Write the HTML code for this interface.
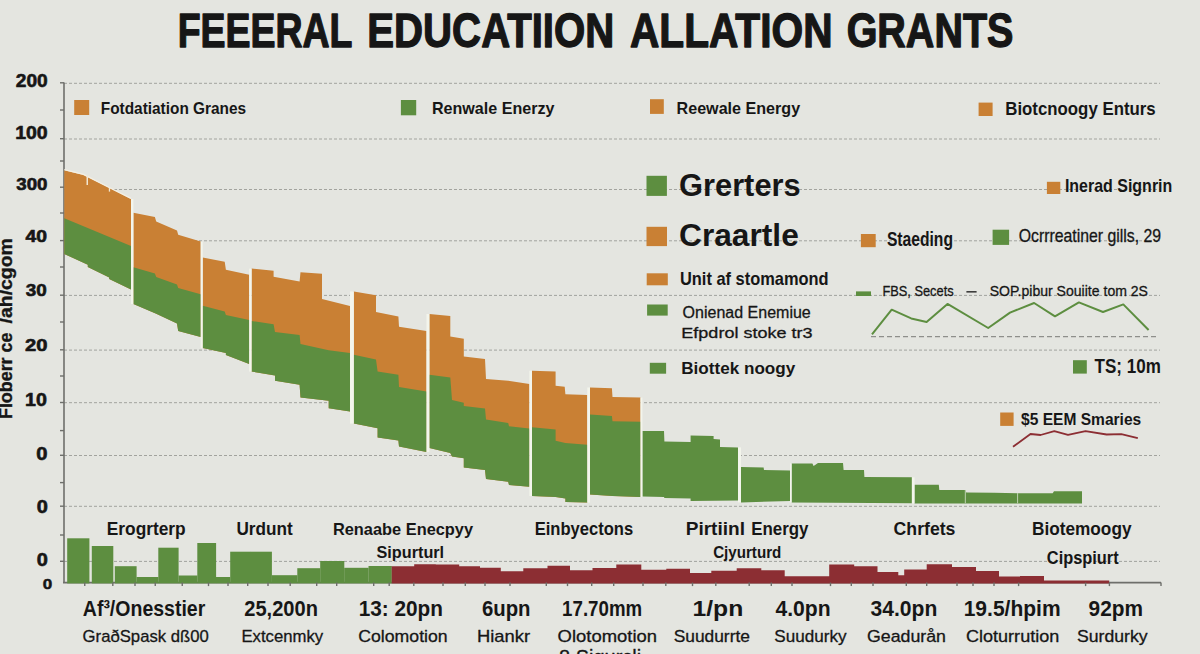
<!DOCTYPE html>
<html><head><meta charset="utf-8"><style>
html,body{margin:0;padding:0;background:#e4e5e0;}
body{width:1200px;height:654px;overflow:hidden;}
svg{display:block;font-family:"Liberation Sans",sans-serif;}
</style></head><body>
<svg width="1200" height="654" viewBox="0 0 1200 654">
<rect width="1200" height="654" fill="#e4e5e0"/>
<line x1="64" y1="83.3" x2="1160" y2="83.3" stroke="#a2a39e" stroke-width="1" stroke-dasharray="3 2"/>
<line x1="64" y1="139" x2="1160" y2="139" stroke="#a2a39e" stroke-width="1" stroke-dasharray="3 2"/>
<line x1="64" y1="189.5" x2="1160" y2="189.5" stroke="#a2a39e" stroke-width="1" stroke-dasharray="3 2"/>
<line x1="64" y1="240.8" x2="1160" y2="240.8" stroke="#a2a39e" stroke-width="1" stroke-dasharray="3 2"/>
<line x1="64" y1="295.4" x2="1160" y2="295.4" stroke="#a2a39e" stroke-width="1" stroke-dasharray="3 2"/>
<line x1="64" y1="350.1" x2="1160" y2="350.1" stroke="#a2a39e" stroke-width="1" stroke-dasharray="3 2"/>
<line x1="64" y1="402.7" x2="1160" y2="402.7" stroke="#a2a39e" stroke-width="1" stroke-dasharray="3 2"/>
<line x1="64" y1="455.5" x2="1160" y2="455.5" stroke="#a2a39e" stroke-width="1" stroke-dasharray="3 2"/>
<line x1="64" y1="506.3" x2="1160" y2="506.3" stroke="#a2a39e" stroke-width="1" stroke-dasharray="3 2"/>
<line x1="64" y1="561.4" x2="1160" y2="561.4" stroke="#a2a39e" stroke-width="1" stroke-dasharray="3 2"/>
<line x1="64" y1="82.5" x2="64" y2="582.6" stroke="#6e6f6b" stroke-width="1.6"/>
<polygon fill="#c98034" points="64.3,170.3 83.5,175.0 131.0,199.0 131.0,289.4 109.2,279.0 109.2,277.6 87.8,267.0 87.8,264.8 64.3,254.1"/>
<polygon fill="#5d8e40" points="64.3,218.2 131.0,246.0 131.0,289.4 109.2,279.0 109.2,277.6 87.8,267.0 87.8,264.8 64.3,254.1"/>
<polygon fill="#c98034" points="133.4,212.7 154.9,217.1 156.2,221.5 177.0,230.6 178.2,234.8 200.7,241.6 200.7,337.1 178.2,331.0 177.0,323.6 156.2,313.8 133.4,304.0"/>
<polygon fill="#5d8e40" points="133.4,267.3 154.9,273.4 156.2,277.1 177.0,284.5 178.2,288.1 200.7,294.2 200.7,337.1 178.2,331.0 177.0,323.6 156.2,313.8 133.4,304.0"/>
<polygon fill="#c98034" points="202.7,257.5 224.7,261.7 225.9,269.8 249.2,274.7 249.2,364.0 225.9,355.0 225.9,353.0 202.7,348.1"/>
<polygon fill="#5d8e40" points="202.7,305.8 224.7,311.4 225.9,315.0 249.2,320.0 249.2,364.0 225.9,355.0 225.9,353.0 202.7,348.1"/>
<polygon fill="#c98034" points="251.6,268.6 273.6,270.7 273.6,276.8 299.6,281.4 300.5,272.2 322.0,273.8 322.0,299.0 350.0,306.0 350.0,411.4 328.7,408.3 328.7,400.7 300.5,397.6 299.6,384.8 275.0,380.8 275.0,375.6 251.6,371.6"/>
<polygon fill="#5d8e40" points="251.6,321.0 273.6,324.2 275.0,332.0 299.6,335.0 300.5,344.0 328.7,350.2 350.0,353.0 350.0,411.4 328.7,408.3 328.7,400.7 300.5,397.6 299.6,384.8 275.0,380.8 275.0,375.6 251.6,371.6"/>
<polygon fill="#c98034" points="353.8,291.5 376.0,295.2 376.0,312.0 398.4,316.6 399.0,326.7 426.5,331.0 426.5,452.0 399.0,446.5 398.4,440.4 377.6,437.4 377.6,428.2 353.8,423.6"/>
<polygon fill="#5d8e40" points="353.8,354.8 376.0,359.4 377.6,371.6 398.4,374.7 399.0,387.0 426.5,391.5 426.5,452.0 399.0,446.5 398.4,440.4 377.6,437.4 377.6,428.2 353.8,423.6"/>
<polygon fill="#c98034" points="429.4,314.0 450.3,316.0 450.3,336.4 463.8,338.7 463.8,356.5 485.0,359.0 486.0,379.0 508.2,380.8 529.4,384.0 529.4,486.8 509.0,485.0 508.2,481.8 486.0,479.0 485.0,470.0 463.8,467.6 463.8,458.2 452.0,456.5 450.3,453.0 429.4,448.0"/>
<polygon fill="#5d8e40" points="429.4,374.7 450.3,377.4 452.0,400.0 463.8,402.7 463.8,406.0 485.0,408.4 486.0,419.5 508.2,422.9 509.0,426.2 529.4,428.6 529.4,486.8 509.0,485.0 508.2,481.8 486.0,479.0 485.0,470.0 463.8,467.6 463.8,458.2 452.0,456.5 450.3,453.0 429.4,448.0"/>
<polygon fill="#c98034" points="532.0,370.7 555.6,371.4 555.6,385.8 564.7,386.8 565.4,394.2 587.3,395.0 587.3,502.6 565.4,502.0 565.4,498.6 555.6,497.0 532.0,496.0"/>
<polygon fill="#5d8e40" points="532.0,427.2 555.6,429.6 555.6,440.7 565.4,443.0 587.3,444.7 587.3,502.6 565.4,502.0 565.4,498.6 555.6,497.0 532.0,496.0"/>
<polygon fill="#c98034" points="590.0,387.5 611.9,388.2 612.5,397.0 640.5,397.6 640.5,497.0 612.5,496.0 590.0,494.5"/>
<polygon fill="#5d8e40" points="590.0,414.4 611.9,416.0 612.5,421.2 640.5,421.8 640.5,497.0 612.5,496.0 590.0,494.5"/>
<polygon fill="#5d8e40" points="642.4,431.0 664.0,431.0 664.4,441.6 690.6,442.0 690.6,435.6 713.6,436.0 713.6,439.0 720.0,439.4 720.0,447.0 738.0,447.4 738.0,500.6 690.6,501.0 690.6,498.4 664.4,498.0 664.0,497.0 642.4,496.4"/>
<polygon fill="#5d8e40" points="741.0,467.0 763.6,467.4 764.0,470.0 790.0,470.4 790.0,501.0 741.0,502.4"/>
<polygon fill="#5d8e40" points="791.6,463.4 812.4,463.6 813.6,466.0 818.0,463.0 843.0,463.0 843.6,470.0 864.0,470.0 864.4,477.0 911.9,477.3 911.9,503.3 791.6,502.5"/>
<polygon fill="#5d8e40" points="914.5,484.8 938.8,484.8 939.3,490.1 965.2,490.1 966.3,492.5 994.0,492.8 1017.5,493.3 1052.7,493.3 1054.0,491.2 1082.0,491.2 1082.0,503.4 914.5,503.4"/>
<polyline fill="none" stroke="#f4efe2" stroke-width="1.3" points="64.3,169.6 83.5,174.3 109.3,187.5 131,198.3"/>
<rect x="86.5" y="175.0" width="1.5" height="10.0" fill="#f1e6d2"/>
<rect x="108.8" y="188.0" width="1.3" height="3.6" fill="#f1e6d2"/>
<rect x="131.0" y="199.0" width="2.4" height="105.0" fill="#f3f5ec"/>
<rect x="200.7" y="241.6" width="2.0" height="106.5" fill="#f3f5ec"/>
<rect x="249.2" y="268.6" width="2.4" height="103.0" fill="#f3f5ec"/>
<rect x="350.0" y="291.5" width="3.8" height="132.1" fill="#f3f5ec"/>
<rect x="426.5" y="314.0" width="2.9" height="138.0" fill="#f3f5ec"/>
<rect x="529.4" y="370.7" width="2.6" height="125.3" fill="#f3f5ec"/>
<rect x="587.3" y="387.5" width="2.7" height="115.1" fill="#f3f5ec"/>
<rect x="640.5" y="397.6" width="1.9" height="99.4" fill="#f3f5ec"/>
<rect x="738.0" y="447.4" width="3.0" height="55.0" fill="#f3f5ec"/>
<rect x="790.0" y="463.4" width="1.6" height="39.1" fill="#f3f5ec"/>
<rect x="911.9" y="477.3" width="2.6" height="26.1" fill="#f3f5ec"/>
<rect x="964.8" y="490.0" width="1.1" height="13.4" fill="#b5cca6"/>
<rect x="1017.0" y="493.0" width="1.1" height="10.4" fill="#b5cca6"/>
<line x1="63" y1="582.6" x2="1161" y2="582.6" stroke="#6e6f6b" stroke-width="1.6"/>
<rect x="67.2" y="538.3" width="22.2" height="45.1" fill="#5d8e40"/>
<rect x="91.8" y="546.0" width="21.5" height="37.4" fill="#5d8e40"/>
<rect x="114.8" y="566.2" width="21.8" height="17.2" fill="#5d8e40"/>
<rect x="136.5" y="577.0" width="21.9" height="6.4" fill="#5d8e40"/>
<rect x="158.3" y="547.7" width="20.3" height="35.7" fill="#5d8e40"/>
<rect x="178.5" y="575.5" width="18.9" height="7.9" fill="#5d8e40"/>
<rect x="197.3" y="543.0" width="18.8" height="40.4" fill="#5d8e40"/>
<rect x="216.0" y="577.0" width="14.3" height="6.4" fill="#5d8e40"/>
<rect x="230.2" y="551.7" width="19.9" height="31.7" fill="#5d8e40"/>
<rect x="250.0" y="551.7" width="21.9" height="31.7" fill="#5d8e40"/>
<rect x="271.8" y="575.2" width="25.6" height="8.2" fill="#5d8e40"/>
<rect x="297.3" y="568.2" width="23.0" height="15.2" fill="#5d8e40"/>
<rect x="320.2" y="561.0" width="24.1" height="22.4" fill="#5d8e40"/>
<rect x="344.2" y="567.8" width="24.4" height="15.6" fill="#5d8e40"/>
<rect x="368.5" y="566.0" width="23.3" height="17.4" fill="#5d8e40"/>
<polygon fill="#8c2e33" points="391.7,583.4 391.7,566.2 414.2,566.2 414.2,564.2 435.8,564.2 435.8,564.5 459.2,564.5 459.2,566.3 480.0,566.3 480.0,567.8 500.8,567.8 500.8,571.2 523.3,571.2 523.3,568.3 547.5,568.3 547.5,565.8 570.0,565.8 570.0,570.3 592.5,570.3 592.5,568.0 616.3,568.0 616.3,564.5 641.3,564.5 641.3,569.7 666.3,569.7 666.3,568.7 690.0,568.7 690.0,573.0 711.3,573.0 711.3,570.8 736.7,570.8 736.7,568.3 761.3,568.3 761.3,570.3 784.7,570.3 784.7,576.3 829.2,576.3 829.2,564.5 854.2,564.5 854.2,566.3 877.5,566.3 877.5,572.0 898.3,572.0 898.3,575.3 904.2,575.3 904.2,569.5 926.7,569.5 926.7,564.3 952.0,564.3 952.0,567.0 976.0,567.0 976.0,571.0 999.0,571.0 999.0,576.6 1020.0,576.6 1020.0,576.0 1044.0,576.0 1044.0,580.6 1109.2,580.6 1109.2,583.4"/>
<line x1="60" y1="82.8" x2="64" y2="82.8" stroke="#6e6f6b" stroke-width="1.4"/>
<line x1="60" y1="110" x2="64" y2="110" stroke="#6e6f6b" stroke-width="1.4"/>
<line x1="60" y1="138.7" x2="64" y2="138.7" stroke="#6e6f6b" stroke-width="1.4"/>
<line x1="60" y1="161" x2="64" y2="161" stroke="#6e6f6b" stroke-width="1.4"/>
<line x1="60" y1="187.2" x2="64" y2="187.2" stroke="#6e6f6b" stroke-width="1.4"/>
<line x1="60" y1="213" x2="64" y2="213" stroke="#6e6f6b" stroke-width="1.4"/>
<line x1="60" y1="240.6" x2="64" y2="240.6" stroke="#6e6f6b" stroke-width="1.4"/>
<line x1="60" y1="267" x2="64" y2="267" stroke="#6e6f6b" stroke-width="1.4"/>
<line x1="60" y1="295.2" x2="64" y2="295.2" stroke="#6e6f6b" stroke-width="1.4"/>
<line x1="60" y1="322" x2="64" y2="322" stroke="#6e6f6b" stroke-width="1.4"/>
<line x1="60" y1="349.8" x2="64" y2="349.8" stroke="#6e6f6b" stroke-width="1.4"/>
<line x1="60" y1="376" x2="64" y2="376" stroke="#6e6f6b" stroke-width="1.4"/>
<line x1="60" y1="402.5" x2="64" y2="402.5" stroke="#6e6f6b" stroke-width="1.4"/>
<line x1="60" y1="430.6" x2="64" y2="430.6" stroke="#6e6f6b" stroke-width="1.4"/>
<line x1="60" y1="455.3" x2="64" y2="455.3" stroke="#6e6f6b" stroke-width="1.4"/>
<line x1="60" y1="482.6" x2="64" y2="482.6" stroke="#6e6f6b" stroke-width="1.4"/>
<line x1="60" y1="506.2" x2="64" y2="506.2" stroke="#6e6f6b" stroke-width="1.4"/>
<line x1="60" y1="535" x2="64" y2="535" stroke="#6e6f6b" stroke-width="1.4"/>
<line x1="60" y1="561.3" x2="64" y2="561.3" stroke="#6e6f6b" stroke-width="1.4"/>
<line x1="84.75" y1="582.6" x2="84.75" y2="586.1" stroke="#6e6f6b" stroke-width="1.4"/>
<line x1="112.8" y1="582.6" x2="112.8" y2="586.1" stroke="#6e6f6b" stroke-width="1.4"/>
<line x1="135" y1="582.6" x2="135" y2="586.1" stroke="#6e6f6b" stroke-width="1.4"/>
<line x1="155.25" y1="582.6" x2="155.25" y2="586.1" stroke="#6e6f6b" stroke-width="1.4"/>
<line x1="182.25" y1="582.6" x2="182.25" y2="586.1" stroke="#6e6f6b" stroke-width="1.4"/>
<line x1="208.5" y1="582.6" x2="208.5" y2="586.1" stroke="#6e6f6b" stroke-width="1.4"/>
<line x1="228" y1="582.6" x2="228" y2="586.1" stroke="#6e6f6b" stroke-width="1.4"/>
<line x1="247.7" y1="582.6" x2="247.7" y2="586.1" stroke="#6e6f6b" stroke-width="1.4"/>
<line x1="268" y1="582.6" x2="268" y2="586.1" stroke="#6e6f6b" stroke-width="1.4"/>
<line x1="290.2" y1="582.6" x2="290.2" y2="586.1" stroke="#6e6f6b" stroke-width="1.4"/>
<line x1="316.7" y1="582.6" x2="316.7" y2="586.1" stroke="#6e6f6b" stroke-width="1.4"/>
<line x1="336.7" y1="582.6" x2="336.7" y2="586.1" stroke="#6e6f6b" stroke-width="1.4"/>
<line x1="373.7" y1="582.6" x2="373.7" y2="586.1" stroke="#6e6f6b" stroke-width="1.4"/>
<line x1="389.2" y1="582.6" x2="389.2" y2="586.1" stroke="#6e6f6b" stroke-width="1.4"/>
<line x1="413.8" y1="582.6" x2="413.8" y2="586.1" stroke="#6e6f6b" stroke-width="1.4"/>
<line x1="443" y1="582.6" x2="443" y2="586.1" stroke="#6e6f6b" stroke-width="1.4"/>
<line x1="465.3" y1="582.6" x2="465.3" y2="586.1" stroke="#6e6f6b" stroke-width="1.4"/>
<line x1="485" y1="582.6" x2="485" y2="586.1" stroke="#6e6f6b" stroke-width="1.4"/>
<line x1="510" y1="582.6" x2="510" y2="586.1" stroke="#6e6f6b" stroke-width="1.4"/>
<line x1="546.3" y1="582.6" x2="546.3" y2="586.1" stroke="#6e6f6b" stroke-width="1.4"/>
<line x1="567.5" y1="582.6" x2="567.5" y2="586.1" stroke="#6e6f6b" stroke-width="1.4"/>
<line x1="591.7" y1="582.6" x2="591.7" y2="586.1" stroke="#6e6f6b" stroke-width="1.4"/>
<line x1="613.7" y1="582.6" x2="613.7" y2="586.1" stroke="#6e6f6b" stroke-width="1.4"/>
<line x1="643" y1="582.6" x2="643" y2="586.1" stroke="#6e6f6b" stroke-width="1.4"/>
<line x1="665.8" y1="582.6" x2="665.8" y2="586.1" stroke="#6e6f6b" stroke-width="1.4"/>
<line x1="692.5" y1="582.6" x2="692.5" y2="586.1" stroke="#6e6f6b" stroke-width="1.4"/>
<line x1="715.8" y1="582.6" x2="715.8" y2="586.1" stroke="#6e6f6b" stroke-width="1.4"/>
<line x1="749.2" y1="582.6" x2="749.2" y2="586.1" stroke="#6e6f6b" stroke-width="1.4"/>
<line x1="771.3" y1="582.6" x2="771.3" y2="586.1" stroke="#6e6f6b" stroke-width="1.4"/>
<line x1="792" y1="582.6" x2="792" y2="586.1" stroke="#6e6f6b" stroke-width="1.4"/>
<line x1="830.5" y1="582.6" x2="830.5" y2="586.1" stroke="#6e6f6b" stroke-width="1.4"/>
<line x1="851.3" y1="582.6" x2="851.3" y2="586.1" stroke="#6e6f6b" stroke-width="1.4"/>
<line x1="873" y1="582.6" x2="873" y2="586.1" stroke="#6e6f6b" stroke-width="1.4"/>
<line x1="906.3" y1="582.6" x2="906.3" y2="586.1" stroke="#6e6f6b" stroke-width="1.4"/>
<line x1="926.7" y1="582.6" x2="926.7" y2="586.1" stroke="#6e6f6b" stroke-width="1.4"/>
<line x1="957" y1="582.6" x2="957" y2="586.1" stroke="#6e6f6b" stroke-width="1.4"/>
<line x1="973" y1="582.6" x2="973" y2="586.1" stroke="#6e6f6b" stroke-width="1.4"/>
<line x1="994" y1="582.6" x2="994" y2="586.1" stroke="#6e6f6b" stroke-width="1.4"/>
<line x1="1018.6" y1="582.6" x2="1018.6" y2="586.1" stroke="#6e6f6b" stroke-width="1.4"/>
<line x1="1085.6" y1="582.6" x2="1085.6" y2="586.1" stroke="#6e6f6b" stroke-width="1.4"/>
<line x1="1109.4" y1="582.6" x2="1109.4" y2="586.1" stroke="#6e6f6b" stroke-width="1.4"/>
<line x1="1161" y1="582.6" x2="1161" y2="586.1" stroke="#6e6f6b" stroke-width="1.4"/>
<text x="15.74" y="86.90" font-size="18.54" font-weight="bold" textLength="31.95" lengthAdjust="spacingAndGlyphs" fill="#161616" stroke="#161616" stroke-width="0.60" stroke-linejoin="round" >200</text>
<text x="15.17" y="139.20" font-size="18.11" font-weight="bold" textLength="32.53" lengthAdjust="spacingAndGlyphs" fill="#161616" stroke="#161616" stroke-width="0.60" stroke-linejoin="round" >100</text>
<text x="16.27" y="189.70" font-size="16.83" font-weight="bold" textLength="31.20" lengthAdjust="spacingAndGlyphs" fill="#161616" stroke="#161616" stroke-width="0.60" stroke-linejoin="round" >300</text>
<text x="25.41" y="242.20" font-size="16.83" font-weight="bold" textLength="21.48" lengthAdjust="spacingAndGlyphs" fill="#161616" stroke="#161616" stroke-width="0.60" stroke-linejoin="round" >40</text>
<text x="25.87" y="296.20" font-size="17.40" font-weight="bold" textLength="21.01" lengthAdjust="spacingAndGlyphs" fill="#161616" stroke="#161616" stroke-width="0.60" stroke-linejoin="round" >30</text>
<text x="25.00" y="351.20" font-size="17.40" font-weight="bold" textLength="22.53" lengthAdjust="spacingAndGlyphs" fill="#161616" stroke="#161616" stroke-width="0.60" stroke-linejoin="round" >20</text>
<text x="25.06" y="406.40" font-size="18.26" font-weight="bold" textLength="21.84" lengthAdjust="spacingAndGlyphs" fill="#161616" stroke="#161616" stroke-width="0.60" stroke-linejoin="round" >10</text>
<text x="36.30" y="459.60" font-size="17.69" font-weight="bold" textLength="11.23" lengthAdjust="spacingAndGlyphs" fill="#161616" stroke="#161616" stroke-width="0.60" stroke-linejoin="round" >0</text>
<text x="36.81" y="512.70" font-size="17.69" font-weight="bold" textLength="11.11" lengthAdjust="spacingAndGlyphs" fill="#161616" stroke="#161616" stroke-width="0.60" stroke-linejoin="round" >0</text>
<text x="36.81" y="565.80" font-size="18.26" font-weight="bold" textLength="11.11" lengthAdjust="spacingAndGlyphs" fill="#161616" stroke="#161616" stroke-width="0.60" stroke-linejoin="round" >0</text>
<text x="42.78" y="589.15" font-size="15.07" font-weight="bold" textLength="9.47" lengthAdjust="spacingAndGlyphs" fill="#161616" stroke="#161616" stroke-width="0.50" stroke-linejoin="round" >0</text>
<text transform="translate(12.42,419.02) rotate(-90)" x="0" y="0" font-size="18.25" font-weight="bold" textLength="86.46" lengthAdjust="spacingAndGlyphs" fill="#161616" stroke="#161616" stroke-width="0.35">Floberr ce</text>
<text transform="translate(12.42,323.41) rotate(-90)" x="0" y="0" font-size="18.25" font-weight="bold" textLength="85.24" lengthAdjust="spacingAndGlyphs" fill="#161616" stroke="#161616" stroke-width="0.35">/ah/cgom</text>
<text x="177.64" y="46.85" font-size="47.39" font-weight="bold" textLength="174.86" lengthAdjust="spacingAndGlyphs" fill="#161616" stroke="#161616" stroke-width="1.30" stroke-linejoin="round" >FEEERAL</text>
<text x="367.29" y="46.85" font-size="47.39" font-weight="bold" textLength="247.03" lengthAdjust="spacingAndGlyphs" fill="#161616" stroke="#161616" stroke-width="1.30" stroke-linejoin="round" >EDUCATIION</text>
<text x="629.95" y="46.85" font-size="47.39" font-weight="bold" textLength="202.60" lengthAdjust="spacingAndGlyphs" fill="#161616" stroke="#161616" stroke-width="1.30" stroke-linejoin="round" >ALLATION</text>
<text x="846.63" y="46.85" font-size="47.39" font-weight="bold" textLength="166.76" lengthAdjust="spacingAndGlyphs" fill="#161616" stroke="#161616" stroke-width="1.30" stroke-linejoin="round" >GRANTS</text>
<rect x="74.2" y="100.0" width="15.0" height="15.0" fill="#c98034"/>
<text x="100.77" y="114.30" font-size="17.30" font-weight="bold" textLength="145.36" lengthAdjust="spacingAndGlyphs" fill="#161616" >Fotdatiation Granes</text>
<rect x="400.9" y="100.0" width="15.3" height="15.3" fill="#5d8e40"/>
<text x="431.92" y="114.20" font-size="16.86" font-weight="bold" textLength="122.56" lengthAdjust="spacingAndGlyphs" fill="#161616" >Renwale Enerzy</text>
<rect x="650.0" y="99.2" width="13.8" height="14.7" fill="#c98034"/>
<text x="676.52" y="114.20" font-size="17.30" font-weight="bold" textLength="123.67" lengthAdjust="spacingAndGlyphs" fill="#161616" >Reewale Energy</text>
<rect x="978.6" y="102.6" width="14.0" height="13.4" fill="#c98034"/>
<text x="1005.28" y="114.50" font-size="17.88" font-weight="bold" textLength="150.41" lengthAdjust="spacingAndGlyphs" fill="#161616" >Biotcnoogy Enturs</text>
<rect x="646.5" y="175.8" width="20.4" height="20.1" fill="#5d8e40"/>
<text x="679.04" y="195.90" font-size="31.83" font-weight="bold" textLength="121.63" lengthAdjust="spacingAndGlyphs" fill="#161616" >Grerters</text>
<rect x="646.5" y="226.8" width="20.5" height="19.3" fill="#c98034"/>
<text x="679.00" y="246.00" font-size="30.52" font-weight="bold" textLength="119.78" lengthAdjust="spacingAndGlyphs" fill="#161616" >Craartle</text>
<rect x="646.7" y="273.3" width="21.1" height="12.0" fill="#c98034"/>
<text x="680.01" y="285.10" font-size="17.59" font-weight="bold" textLength="148.57" lengthAdjust="spacingAndGlyphs" fill="#161616" >Unit af stomamond</text>
<rect x="647.1" y="304.5" width="20.6" height="11.1" fill="#5d8e40"/>
<text x="682.59" y="318.25" font-size="16.42" font-weight="normal" textLength="128.17" lengthAdjust="spacingAndGlyphs" fill="#161616" stroke="#161616" stroke-width="0.30" stroke-linejoin="round" >Onienad Enemiue</text>
<text x="681.37" y="337.95" font-size="15.40" font-weight="normal" textLength="131.07" lengthAdjust="spacingAndGlyphs" fill="#161616" stroke="#161616" stroke-width="0.30" stroke-linejoin="round" >Efpdrol stoke tr3</text>
<rect x="649.8" y="362.8" width="16.3" height="10.9" fill="#5d8e40"/>
<text x="681.26" y="374.20" font-size="16.57" font-weight="bold" textLength="114.04" lengthAdjust="spacingAndGlyphs" fill="#161616" >Biottek noogy</text>
<rect x="1046.9" y="181.8" width="13.4" height="12.2" fill="#c98034"/>
<text x="1064.93" y="192.00" font-size="19.04" font-weight="bold" textLength="107.36" lengthAdjust="spacingAndGlyphs" fill="#161616" >Inerad Signrin</text>
<rect x="860.9" y="234.0" width="14.8" height="13.2" fill="#c98034"/>
<text x="886.95" y="245.70" font-size="19.91" font-weight="bold" textLength="66.00" lengthAdjust="spacingAndGlyphs" fill="#161616" >Staeding</text>
<rect x="992.6" y="229.7" width="16.5" height="15.2" fill="#5d8e40"/>
<text x="1018.70" y="241.85" font-size="18.60" font-weight="normal" textLength="142.40" lengthAdjust="spacingAndGlyphs" fill="#161616" stroke="#161616" stroke-width="0.30" stroke-linejoin="round" >Ocrrreatiner gills, 29</text>
<rect x="856.0" y="291.4" width="15.0" height="4.6" fill="#5d8e40"/>
<text x="882.40" y="296.05" font-size="15.54" font-weight="normal" textLength="71.21" lengthAdjust="spacingAndGlyphs" fill="#161616" stroke="#161616" stroke-width="0.30" stroke-linejoin="round" >FBS, Secets</text>
<rect x="966.4" y="291.2" width="10.2" height="1.3" fill="#161616"/>
<text x="989.72" y="296.05" font-size="15.54" font-weight="normal" textLength="158.27" lengthAdjust="spacingAndGlyphs" fill="#161616" stroke="#161616" stroke-width="0.30" stroke-linejoin="round" >SOP.pibur Souiite tom 2S</text>
<polyline fill="none" stroke="#5d8e40" stroke-width="2" stroke-linejoin="round" points="872,334.4 891.7,309.7 911.2,318.4 926.6,321.9 947.5,303.9 988.2,328 1010,312.6 1034.1,303 1055,316.3 1078.9,302.4 1103,312 1123.3,304.4 1148.6,330"/>
<line x1="871" y1="336.6" x2="1156" y2="336.6" stroke="#8e8f8b" stroke-width="1.2" stroke-dasharray="5 3"/>
<rect x="1073.0" y="360.2" width="13.8" height="13.4" fill="#5d8e40"/>
<text x="1094.51" y="373.00" font-size="19.91" font-weight="bold" textLength="66.35" lengthAdjust="spacingAndGlyphs" fill="#161616" >TS; 10m</text>
<rect x="1000.2" y="412.5" width="13.4" height="13.4" fill="#c98034"/>
<text x="1021.10" y="425.30" font-size="17.30" font-weight="bold" textLength="120.14" lengthAdjust="spacingAndGlyphs" fill="#161616" >$5 EEM Smaries</text>
<polyline fill="none" stroke="#8c2e33" stroke-width="1.8" stroke-linejoin="round" points="1013,446.8 1030.5,434 1040.6,435 1054.3,431.2 1068,434.9 1085.5,431.2 1106.6,434.5 1121.3,434.1 1137.8,438.2"/>
<text x="106.74" y="534.70" font-size="17.88" font-weight="bold" textLength="78.97" lengthAdjust="spacingAndGlyphs" fill="#161616" >Erogrterp</text>
<text x="236.47" y="534.90" font-size="18.60" font-weight="bold" textLength="56.24" lengthAdjust="spacingAndGlyphs" fill="#161616" >Urdunt</text>
<text x="332.90" y="534.70" font-size="17.30" font-weight="bold" textLength="140.18" lengthAdjust="spacingAndGlyphs" fill="#161616" >Renaabe Enecpyy</text>
<text x="376.53" y="558.00" font-size="17.01" font-weight="bold" textLength="67.62" lengthAdjust="spacingAndGlyphs" fill="#161616" >Sipurturl</text>
<text x="534.69" y="534.50" font-size="18.17" font-weight="bold" textLength="98.49" lengthAdjust="spacingAndGlyphs" fill="#161616" >Einbyectons</text>
<text x="685.73" y="534.60" font-size="18.02" font-weight="bold" textLength="59.22" lengthAdjust="spacingAndGlyphs" fill="#161616" >Pirtiinl</text>
<text x="751.17" y="534.60" font-size="18.02" font-weight="bold" textLength="57.32" lengthAdjust="spacingAndGlyphs" fill="#161616" >Energy</text>
<text x="713.18" y="557.90" font-size="16.57" font-weight="bold" textLength="68.12" lengthAdjust="spacingAndGlyphs" fill="#161616" >Cjyurturd</text>
<text x="893.58" y="535.00" font-size="18.90" font-weight="bold" textLength="61.85" lengthAdjust="spacingAndGlyphs" fill="#161616" >Chrfets</text>
<text x="1031.95" y="535.10" font-size="18.02" font-weight="bold" textLength="99.55" lengthAdjust="spacingAndGlyphs" fill="#161616" >Biotemoogy</text>
<text x="1046.83" y="563.90" font-size="18.75" font-weight="bold" textLength="71.87" lengthAdjust="spacingAndGlyphs" fill="#161616" >Cipspiurt</text>
<text x="82.81" y="616.00" font-size="21.80" font-weight="bold" textLength="122.48" lengthAdjust="spacingAndGlyphs" fill="#161616" >Af³/Onesstier</text>
<text x="82.61" y="641.55" font-size="17.00" font-weight="normal" textLength="126.19" lengthAdjust="spacingAndGlyphs" fill="#161616" stroke="#161616" stroke-width="0.30" stroke-linejoin="round" >GraðSpask dß00</text>
<text x="244.30" y="616.00" font-size="21.80" font-weight="bold" textLength="73.64" lengthAdjust="spacingAndGlyphs" fill="#161616" >25,200n</text>
<text x="241.48" y="641.55" font-size="17.00" font-weight="normal" textLength="81.70" lengthAdjust="spacingAndGlyphs" fill="#161616" stroke="#161616" stroke-width="0.30" stroke-linejoin="round" >Extcenmky</text>
<text x="358.69" y="616.00" font-size="21.80" font-weight="bold" textLength="84.30" lengthAdjust="spacingAndGlyphs" fill="#161616" >13: 20pn</text>
<text x="358.25" y="641.55" font-size="17.00" font-weight="normal" textLength="89.45" lengthAdjust="spacingAndGlyphs" fill="#161616" stroke="#161616" stroke-width="0.30" stroke-linejoin="round" >Colomotion</text>
<text x="481.95" y="616.00" font-size="21.80" font-weight="bold" textLength="48.61" lengthAdjust="spacingAndGlyphs" fill="#161616" >6upn</text>
<text x="476.94" y="641.55" font-size="17.00" font-weight="normal" textLength="53.22" lengthAdjust="spacingAndGlyphs" fill="#161616" stroke="#161616" stroke-width="0.30" stroke-linejoin="round" >Hiankr</text>
<text x="562.12" y="616.00" font-size="21.80" font-weight="bold" textLength="80.04" lengthAdjust="spacingAndGlyphs" fill="#161616" >17.70mm</text>
<text x="557.58" y="641.55" font-size="17.00" font-weight="normal" textLength="99.47" lengthAdjust="spacingAndGlyphs" fill="#161616" stroke="#161616" stroke-width="0.30" stroke-linejoin="round" >Olotomotion</text>
<text x="692.44" y="616.00" font-size="21.80" font-weight="bold" textLength="50.79" lengthAdjust="spacingAndGlyphs" fill="#161616" >1/pn</text>
<text x="673.66" y="641.55" font-size="17.00" font-weight="normal" textLength="76.26" lengthAdjust="spacingAndGlyphs" fill="#161616" stroke="#161616" stroke-width="0.30" stroke-linejoin="round" >Suudurrte</text>
<text x="775.38" y="616.00" font-size="21.80" font-weight="bold" textLength="55.23" lengthAdjust="spacingAndGlyphs" fill="#161616" >4.0pn</text>
<text x="774.37" y="641.55" font-size="17.00" font-weight="normal" textLength="72.21" lengthAdjust="spacingAndGlyphs" fill="#161616" stroke="#161616" stroke-width="0.30" stroke-linejoin="round" >Suudurky</text>
<text x="870.52" y="616.00" font-size="21.80" font-weight="bold" textLength="66.79" lengthAdjust="spacingAndGlyphs" fill="#161616" >34.0pn</text>
<text x="866.96" y="641.55" font-size="17.00" font-weight="normal" textLength="79.05" lengthAdjust="spacingAndGlyphs" fill="#161616" stroke="#161616" stroke-width="0.30" stroke-linejoin="round" >Geadurån</text>
<text x="963.68" y="616.00" font-size="21.80" font-weight="bold" textLength="96.93" lengthAdjust="spacingAndGlyphs" fill="#161616" >19.5/hpim</text>
<text x="965.93" y="641.55" font-size="17.00" font-weight="normal" textLength="93.39" lengthAdjust="spacingAndGlyphs" fill="#161616" stroke="#161616" stroke-width="0.30" stroke-linejoin="round" >Cloturrution</text>
<text x="1088.58" y="616.00" font-size="21.80" font-weight="bold" textLength="54.41" lengthAdjust="spacingAndGlyphs" fill="#161616" >92pm</text>
<text x="1077.05" y="641.55" font-size="17.00" font-weight="normal" textLength="70.53" lengthAdjust="spacingAndGlyphs" fill="#161616" stroke="#161616" stroke-width="0.30" stroke-linejoin="round" >Surdurky</text>
<text x="559.08" y="663.85" font-size="21.07" font-weight="normal" textLength="82.11" lengthAdjust="spacingAndGlyphs" fill="#161616" stroke="#161616" stroke-width="0.30" stroke-linejoin="round" >8 Sigurcli</text>
</svg>
</body></html>
